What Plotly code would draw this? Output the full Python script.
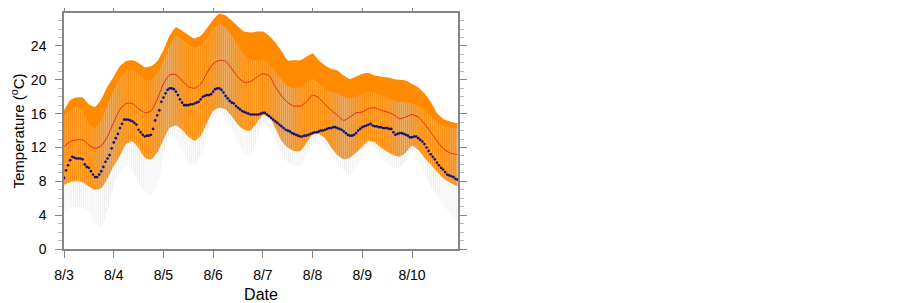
import plotly.graph_objects as go

# ---------------- data ----------------
day_labels = ["8/3", "8/4", "8/5", "8/6", "8/7", "8/8", "8/9", "8/10"]
day_hours = [0, 24, 48, 72, 96, 120, 144, 168]

# envelope time axis (hours since 8/3 00:00, 3-hourly)
env_hours = [0, 3, 6, 9, 12, 15, 18, 21, 24, 27, 30, 33, 36, 39, 42, 45, 48, 51, 54, 57,
             60, 63, 66, 69, 72, 75, 78, 81, 84, 87, 90, 93, 96, 99, 102, 105, 108, 111,
             114, 117, 120, 123, 126, 129, 132, 135, 138, 141, 144, 147, 150, 153, 156,
             159, 162, 165, 168, 171, 174, 177, 180, 183, 186, 189, 190]

band_top = [16.4, 17.6, 17.9, 17.9, 17.1, 16.8, 17.7, 19.2, 20.4, 21.6, 22.2, 22.3, 22.0,
            21.5, 21.6, 22.2, 23.5, 25.2, 26.2, 25.8, 25.3, 24.9, 25.2, 26.1, 27.1, 27.8,
            27.6, 27.0, 26.3, 25.7, 25.6, 25.7, 25.7, 25.2, 24.4, 23.4, 22.3, 22.3, 22.3,
            22.7, 23.1, 22.3, 21.7, 21.3, 21.1, 20.5, 20.1, 20.4, 20.7, 20.8, 20.5, 20.4,
            20.3, 20.1, 20.0, 19.9, 19.5, 19.1, 18.4, 17.4, 16.1, 15.4, 15.1, 14.9, 14.9]

band_bottom = [7.6, 7.9, 8.0, 7.9, 7.4, 7.0, 7.2, 8.3, 9.8, 11.0, 12.4, 12.7, 11.9, 10.8,
               10.6, 11.4, 12.9, 14.3, 14.6, 14.1, 13.3, 12.8, 13.4, 14.9, 16.3, 16.7, 16.5,
               15.7, 14.7, 14.1, 14.0, 14.9, 15.8, 15.6, 14.3, 12.8, 12.0, 11.6, 11.6, 12.5,
               13.5, 13.6, 13.1, 12.0, 11.1, 10.6, 10.8, 11.4, 12.1, 12.8, 12.6, 12.0, 11.5,
               11.1, 10.9, 11.4, 12.2, 11.7, 10.8, 10.0, 9.2, 8.4, 7.9, 7.5, 7.4]

spread_top = [15.8, 16.5, 16.8, 16.5, 14.8, 14.3, 15.3, 17.0, 18.8, 20.2, 21.0, 21.2, 20.8,
              20.0, 20.0, 20.8, 22.2, 24.0, 25.2, 24.8, 24.2, 23.8, 24.1, 25.0, 26.0, 26.6,
              26.2, 25.2, 24.0, 23.0, 22.4, 22.3, 22.4, 21.9, 21.0, 20.0, 19.2, 19.0, 19.2,
              19.7, 20.1, 19.6, 19.0, 18.6, 18.4, 18.0, 17.8, 18.0, 18.4, 18.6, 18.5, 18.2,
              17.9, 17.6, 17.4, 17.3, 17.2, 16.9, 16.4, 15.8, 15.0, 14.6, 14.4, 14.3, 14.3]

spread_bottom = [4.3, 4.9, 5.0, 4.9, 4.4, 3.0, 2.7, 4.6, 7.4, 9.0, 9.8, 9.3, 7.7, 6.8, 6.3,
                 7.6, 10.9, 13.5, 13.0, 11.5, 10.2, 10.0, 11.0, 13.5, 15.3, 16.3, 15.6, 14.2,
                 12.7, 11.2, 11.3, 12.9, 15.0, 14.4, 12.8, 11.4, 10.2, 9.9, 9.8, 11.0, 12.4,
                 13.2, 12.3, 11.1, 10.1, 9.3, 8.8, 9.5, 10.8, 12.2, 12.1, 10.9, 10.1, 9.6,
                 9.6, 10.5, 11.8, 10.5, 9.0, 7.4, 6.3, 5.2, 4.3, 3.4, 3.3]

mean_temp = [12.1, 12.7, 12.9, 12.9, 12.3, 11.9, 12.2, 13.3, 15.0, 16.5, 17.2, 17.2, 16.6,
             16.1, 16.3, 17.7, 19.5, 20.6, 20.6, 19.9, 19.2, 19.0, 19.5, 20.8, 21.9, 22.3,
             22.2, 21.3, 20.3, 19.7, 19.8, 20.3, 20.7, 20.5, 19.2, 18.1, 17.3, 16.9, 16.9,
             17.4, 18.2, 17.9, 17.1, 16.4, 15.8, 15.2, 15.6, 16.1, 16.2, 16.6, 16.7, 16.4,
             16.2, 15.9, 15.4, 15.6, 15.9, 15.6, 14.8, 13.8, 12.8, 11.9, 11.4, 11.2, 11.2]

# observations, hourly from hour 0 to 190
obs_temp = [8.4, 9.3, 9.9, 10.5, 10.9, 10.8, 10.7, 10.7, 10.7, 10.6, 10.0, 9.7, 9.6, 9.2,
            8.8, 8.5, 8.5, 8.8, 9.2, 9.7, 10.3, 10.7, 11.1, 11.9, 12.6, 13.1, 13.6, 14.3,
            14.8, 15.3, 15.3, 15.3, 15.2, 15.1, 14.9, 14.7, 14.1, 13.8, 13.5, 13.3, 13.4,
            13.4, 13.5, 14.2, 15.2, 15.8, 16.4, 17.4, 17.9, 18.4, 18.8, 19.0, 19.0, 18.9,
            18.6, 18.2, 17.7, 17.3, 17.0, 17.0, 17.0, 17.1, 17.1, 17.2, 17.3, 17.4, 17.7,
            18.0, 18.1, 18.2, 18.2, 18.3, 18.6, 18.9, 19.0, 19.0, 18.8, 18.5, 18.1, 17.8,
            17.5, 17.3, 17.2, 16.9, 16.7, 16.5, 16.3, 16.2, 16.1, 16.0, 15.9, 15.9, 15.9,
            15.9, 15.9, 16.0, 16.1, 16.1, 15.9, 15.7, 15.5, 15.3, 15.1, 14.9, 14.7, 14.5,
            14.3, 14.1, 14.0, 13.9, 13.7, 13.6, 13.5, 13.4, 13.3, 13.3, 13.4, 13.4, 13.5,
            13.6, 13.7, 13.8, 13.8, 13.9, 14.0, 14.0, 14.1, 14.2, 14.3, 14.3, 14.4, 14.4,
            14.3, 14.2, 14.1, 13.9, 13.7, 13.5, 13.4, 13.4, 13.5, 13.7, 14.0, 14.2, 14.4,
            14.5, 14.6, 14.7, 14.8, 14.6, 14.5, 14.5, 14.4, 14.4, 14.3, 14.3, 14.3, 14.2,
            14.2, 13.8, 13.5, 13.6, 13.7, 13.7, 13.6, 13.5, 13.4, 13.2, 13.2, 13.3, 13.3,
            13.1, 12.9, 12.7, 12.4, 12.0, 11.6, 11.2, 10.9, 10.6, 10.2, 9.9, 9.6, 9.4, 9.1,
            8.8, 8.7, 8.6, 8.5, 8.3, 8.2]
obs_hours = list(range(len(obs_temp)))

# ---------------- figure ----------------
FONT = "Liberation Sans, Arial, Helvetica, sans-serif"
ORANGE = "rgb(255,138,0)"
AXC = "#858585"

fig = go.Figure()

# orange band
fig.add_trace(go.Scatter(x=env_hours, y=band_bottom, mode="lines",
                         line=dict(width=0, shape="spline", smoothing=0.6),
                         hoverinfo="skip", showlegend=False))
fig.add_trace(go.Scatter(x=env_hours, y=band_top, mode="lines", fill="tonexty",
                         fillcolor=ORANGE,
                         line=dict(width=0, shape="spline", smoothing=0.6),
                         hoverinfo="skip", showlegend=False))

# hatched spread (vertical light-grey lines)
fig.add_trace(go.Scatter(x=env_hours, y=spread_bottom, mode="lines",
                         line=dict(width=0, shape="spline", smoothing=0.6),
                         hoverinfo="skip", showlegend=False))
fig.add_trace(go.Scatter(x=env_hours, y=spread_top, mode="lines", fill="tonexty",
                         fillcolor="rgba(0,0,0,0)",
                         fillpattern=dict(shape="|", size=2.07, solidity=0.45,
                                          fgcolor="#d9d9d9", fgopacity=0.5,
                                          bgcolor="rgba(0,0,0,0)", fillmode="replace"),
                         line=dict(width=0, shape="spline", smoothing=0.6),
                         hoverinfo="skip", showlegend=False))

# mean line
fig.add_trace(go.Scatter(x=env_hours, y=mean_temp, mode="lines",
                         line=dict(color="rgb(235,40,20)", width=1, shape="spline", smoothing=0.6),
                         hoverinfo="skip", showlegend=False))

# observations
fig.add_trace(go.Scatter(x=obs_hours, y=obs_temp, mode="markers",
                         marker=dict(color="rgb(20,20,120)", size=2.7, symbol="circle",
                                     line=dict(width=0)),
                         hoverinfo="skip", showlegend=False))

# page body has an 8px margin, so the figure is 8px smaller and offset accordingly
fig.update_layout(
    width=894, height=295,
    margin=dict(l=56, r=443.7, t=5, b=53.7, autoexpand=False),
    paper_bgcolor="white", plot_bgcolor="white",
    font=dict(family=FONT, size=14, color="black"),
    showlegend=False,
)

fig.update_xaxes(
    range=[0, 190.2], automargin=False,
    tickmode="array", tickvals=day_hours, ticktext=day_labels,
    ticks="outside", ticklen=7, tickwidth=1.2, tickcolor=AXC,
    showline=True, linecolor=AXC, linewidth=1.5, mirror="ticks",
    showgrid=False, zeroline=False,
    tickfont=dict(family=FONT, size=14, color="black"),
    ticklabelstandoff=5,
    title=dict(text="Date", font=dict(family=FONT, size=16, color="black"), standoff=10),
)

fig.update_yaxes(
    range=[0, 27.9], automargin=False,
    tickmode="array", tickvals=[0, 4, 8, 12, 16, 20, 24],
    ticks="outside", ticklen=7, tickwidth=1.2, tickcolor=AXC,
    minor=dict(dtick=1, ticks="outside", ticklen=4, tickwidth=1, tickcolor="#b8b8b8"),
    showline=True, linecolor=AXC, linewidth=1.5, mirror="ticks",
    showgrid=False, zeroline=False,
    tickfont=dict(family=FONT, size=14, color="black"),
    ticklabelstandoff=6,
    title=dict(text="Temperature (<sup>o</sup>C)", font=dict(family=FONT, size=15, color="black"),
               standoff=9),
)

fig.write_html("out.html")
